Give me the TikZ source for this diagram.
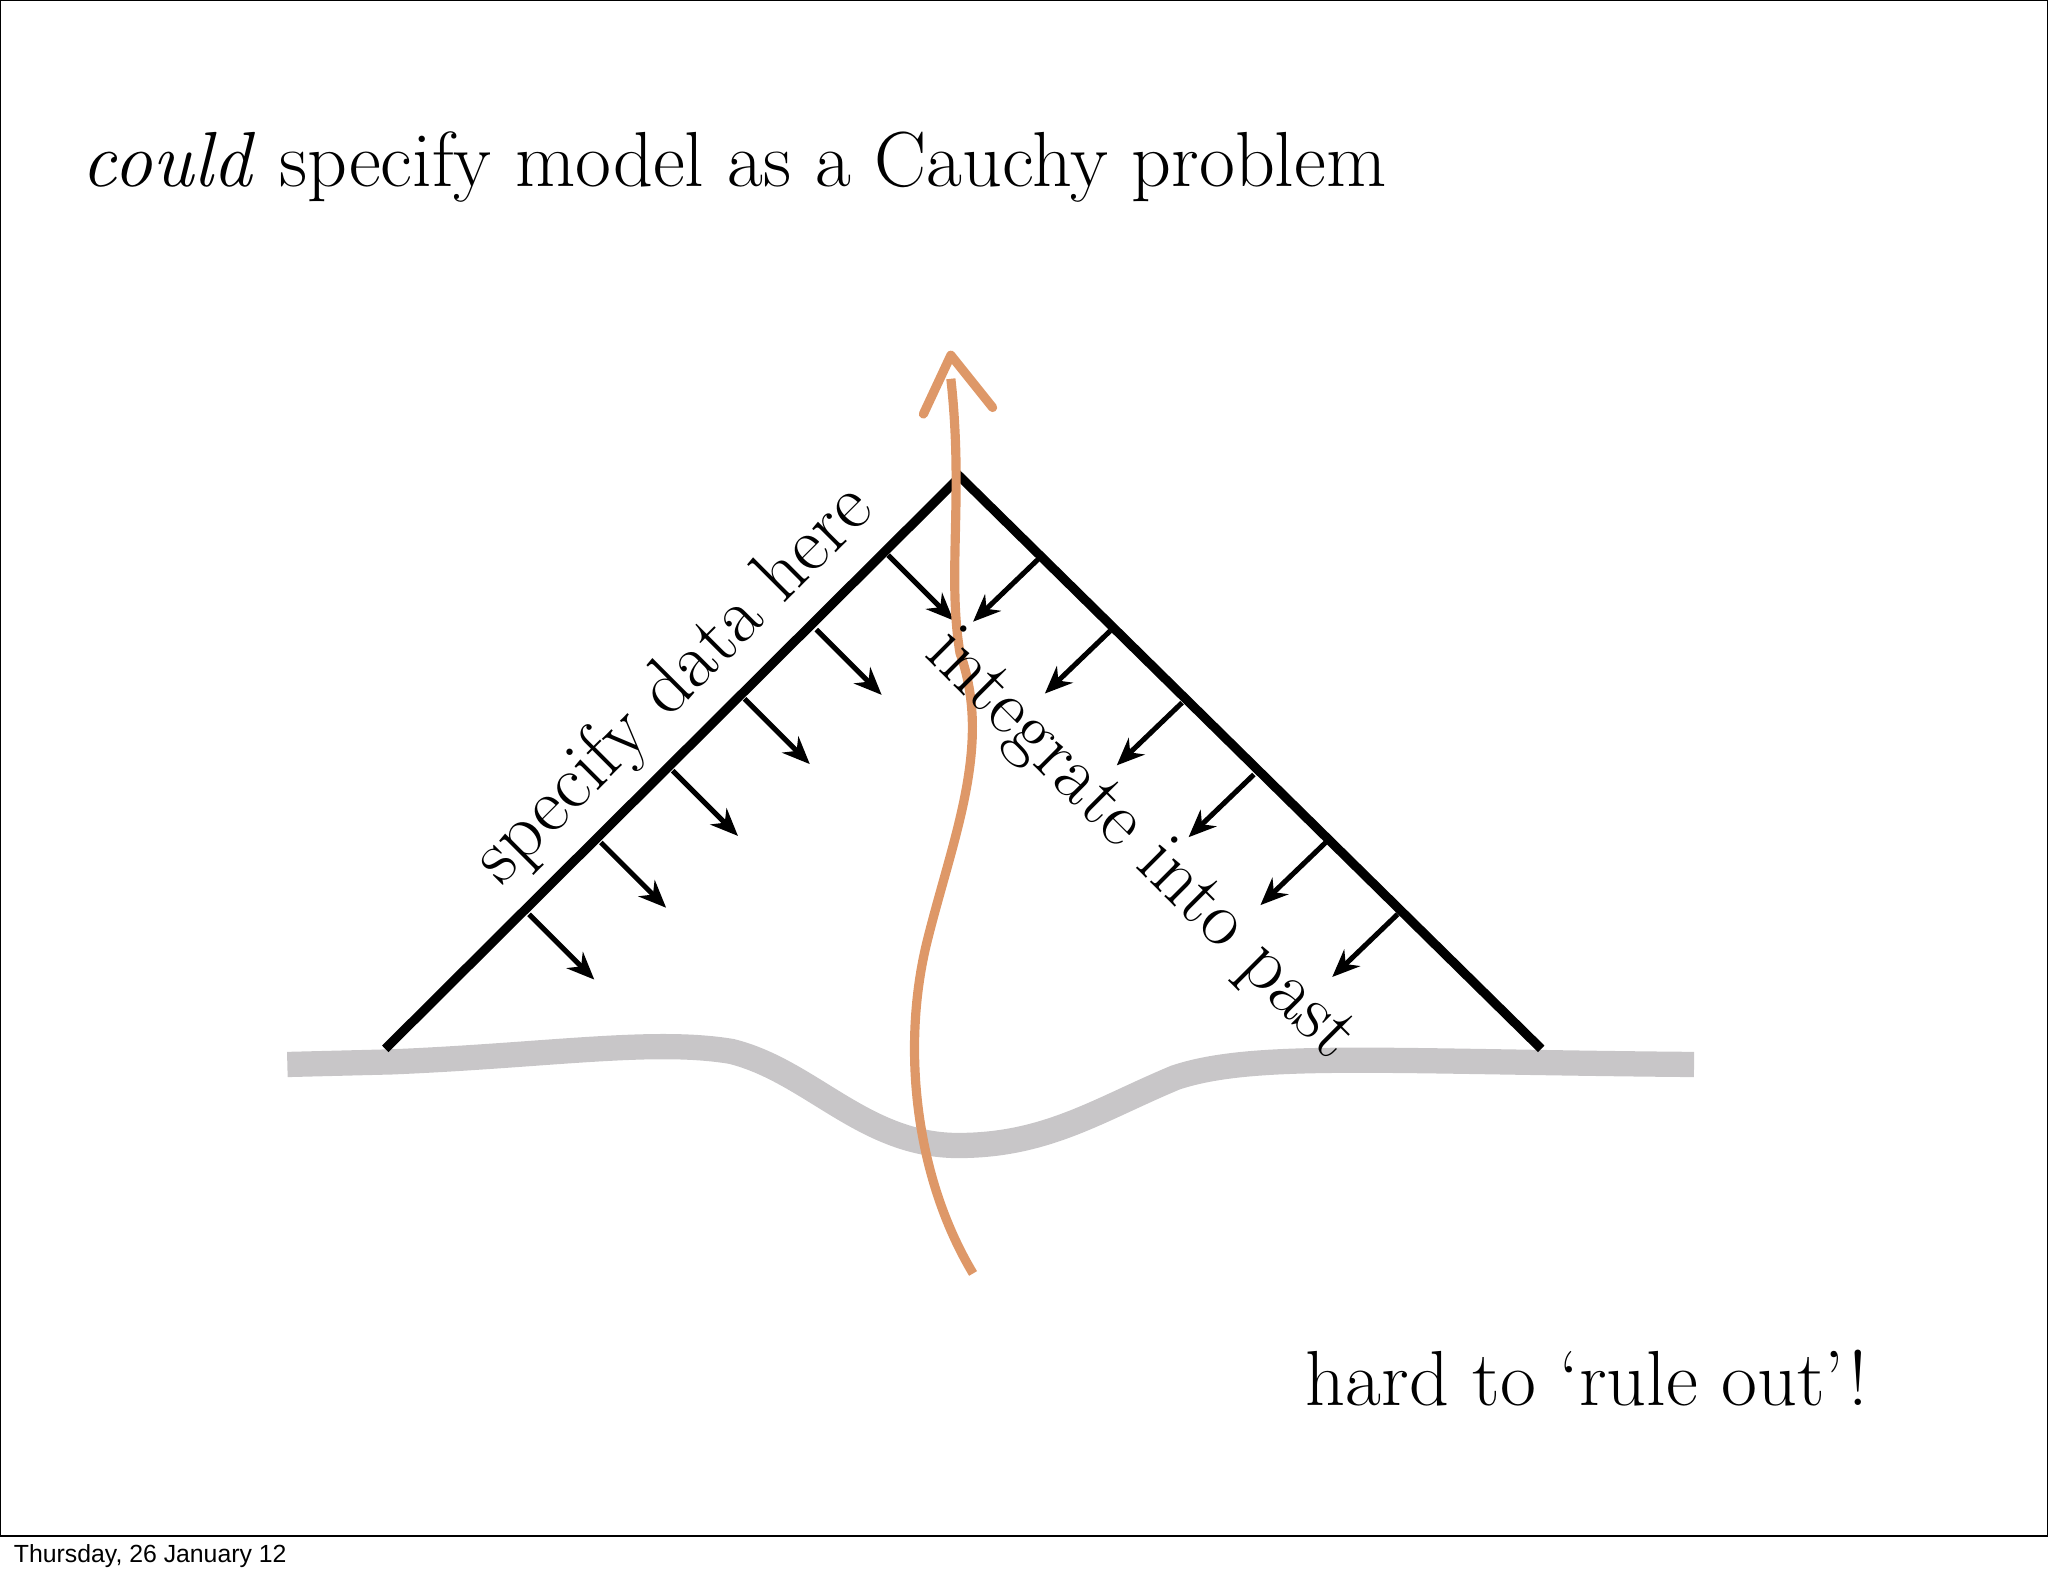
\documentclass[tikz,border=0pt]{standalone}
\usepackage{fontspec}
\newfontfamily\footfont{Liberation Sans}
\usetikzlibrary{arrows.meta}
\definecolor{orng}{RGB}{222,152,104}
\definecolor{gnd}{RGB}{200,198,200}
\tikzset{dataarrow/.style={-{Stealth[length=6pt,width=5pt]},line width=1.1pt},
 edge/.style={line width=2pt,black},
 lbl/.style={font=\fontsize{17}{20}\selectfont,inner sep=0pt}}
\begin{document}
\begin{tikzpicture}[x=0.01cm,y=-0.01cm]
\useasboundingbox (0,0) rectangle (1568,1206);
\draw[line width=0.5pt] (0,0) rectangle (1568,1176);
\node[anchor=west,font=\footfont\fontsize{5.4}{6}\selectfont,inner sep=0pt] (foot) at (10,1191) {Thursday, 26 January 12};
\node[anchor=west,inner sep=0pt,font=\fontsize{17}{20}\selectfont] (title) at (62,128) {\textit{could} specify model as a Cauchy problem};
% ground
\draw[gnd,line width=5.5pt] (220,815) -- (300,813) .. controls (420,808) and (500,795) .. (560,805) .. controls (620,820) and (660,875) .. (730,877) .. controls (800,878) and (840,850) .. (900,825) .. controls (960,805) and (1060,813) .. (1297,815);
% triangle
\coordinate (apex) at (735,365);
\coordinate (bl) at (295,803);
\coordinate (br) at (1180,803);
\draw[edge] (bl) -- (apex) -- (br);
\foreach \i/\sx/\sy in {1/405/700,2/460/645,3/515/590,4/570/535,5/625/482,6/680/425}{
 \coordinate (ls\i) at (\sx,\sy); \coordinate (le\i) at (\sx+50,\sy+50);
 \draw[dataarrow] (ls\i) -- (le\i);}
\foreach \i/\sx/\sy in {1/795/428,2/850/483,3/905/538,4/960/593,5/1015/645,6/1070/700}{
 \coordinate (rs\i) at (\sx,\sy); \coordinate (re\i) at (\sx-50,\sy+48);
 \draw[dataarrow] (rs\i) -- (re\i);}
% orange worldline
\coordinate (ostart) at (745,975);
\coordinate (otip) at (728,272);
\draw[orng,line width=2pt] (ostart) .. controls (700,900) and (690,800) .. (710,720) .. controls (730,640) and (760,570) .. (735,500) .. controls (725,440) and (738,380) .. (728,290);
\draw[orng,line width=2pt,line cap=round,line join=round] (707,317) -- (otip) -- (760,312);
% labels
\node[lbl,rotate=45] (spec) at (517,525) {specify data here};
\node[lbl,rotate=-45] (integ) at (872,648) {integrate into past};
\node[inner sep=0pt,font=\fontsize{17}{20}\selectfont] (hard) at (1215,1055) {hard to `rule out'!};
\end{tikzpicture}
\end{document}
